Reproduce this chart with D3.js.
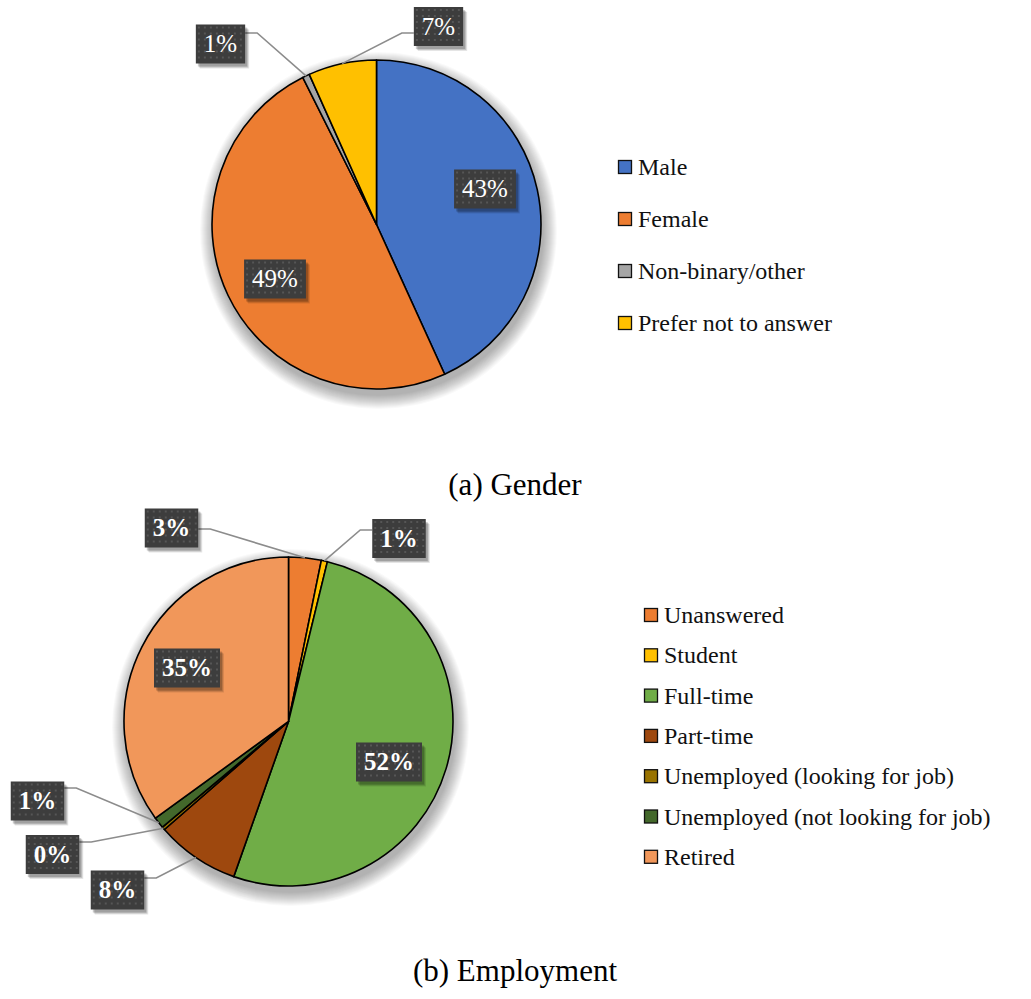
<html><head><meta charset="utf-8"><script src="https://cdn.jsdelivr.net/npm/d3@7"></script></head>
<body style="margin:0">
<svg id="chart" width="1031" height="999"></svg>
<script>
// ---- Data --------------------------------------------------------------
const genderCategories = ["Male", "Female", "Non-binary/other", "Prefer not to answer"];
const genderValues     = [43.2, 49.4, 0.7, 6.7];
const genderColors     = ["#4472C4", "#ED7D31", "#A5A5A5", "#FFC000"];

const employmentCategories = ["Unanswered", "Student", "Full-time", "Part-time",
  "Unemployed (looking for job)", "Unemployed (not looking for job)", "Retired"];
const employmentValues = [3.2, 0.6, 51.6, 8.2, 0.3, 1.1, 35.0];
const employmentColors = ["#ED7D31", "#FFC000", "#70AD47", "#9E480E", "#997300", "#43682B", "#F1975A"];

const captions = ["(a) Gender", "(b) Employment"];

// ---- Layout ------------------------------------------------------------
// Label placement per slice: box centre relative to pie centre, whether the
// label sits inside the slice, and where the leader leaves the box.
const genderLayout = {
  cx: 376.5, cy: 224.5, r: 164.5, bold: false,
  legend: { x: 618, y: 167, step: 52, size: 14 },
  labels: [
    { dx: 108.5, dy: -35.5, inside: true },
    { dx: -101.5, dy: 54.5, inside: true },
    { dx: -156, dy: -180.5, side: "right", ay: -11 },
    { dx: 62, dy: -198, side: "left", ay: 6.5 }
  ],
  caption: { x: 515, y: 495 }
};
const employmentLayout = {
  cx: 288.5, cy: 721.5, r: 164.5, bold: true,
  legend: { x: 644, y: 615, step: 40.3, size: 14 },
  labels: [
    { dx: -117, dy: -193.5, side: "right", ay: 1 },
    { dx: 110.5, dy: -183, side: "left", ay: -8.5 },
    { dx: 100.5, dy: 40.5, inside: true },
    { dx: -171, dy: 168.5, side: "right", ay: -12 },
    { dx: -236, dy: 133, side: "right", ay: -12.5 },
    { dx: -251, dy: 79.5, side: "right", ay: -13 },
    { dx: -101.5, dy: -53.5, inside: true }
  ],
  caption: { x: 515, y: 981 }
};

const LABEL_SIZE = 25;
const FONT = '"Liberation Serif"';

const svg = d3.select("#chart");

// Box width from serif glyph advances (digits 0.5em, percent sign ~0.83em / 1em bold)
function boxWidth(str, bold) {
  let em = 0;
  for (const ch of str) em += ch === "%" ? (bold ? 1.0 : 0.833) : 0.5;
  return em * LABEL_SIZE + 16;
}

function drawPie(categories, values, colors, L, caption) {
  const total = d3.sum(values);
  const pie = d3.pie().sort(null).value(d => d)(values);
  const arc = d3.arc().innerRadius(0).outerRadius(L.r);
  const g = svg.append("g").attr("transform", `translate(${L.cx},${L.cy})`);

  // soft shadow: stacked faint discs, slightly lowered
  g.append("g").selectAll("circle").data(d3.range(14)).join("circle")
    .attr("cx", 2).attr("cy", 6)
    .attr("r", k => L.r + 14 - k)
    .attr("fill", "#000")
    .attr("fill-opacity", 0.022);

  g.append("g")
    .selectAll("path").data(pie).join("path")
      .attr("d", arc)
      .attr("fill", (d, i) => colors[i])
      .attr("stroke", "#000")
      .attr("stroke-width", 1.6)
      .attr("stroke-linejoin", "round");

  const fmt = v => Math.round(v / total * 100) + "%";

  const labG = g.append("g");
  pie.forEach((d, i) => {
    const lab = L.labels[i];
    const str = fmt(d.data);
    const w = boxWidth(str, L.bold), h = 39;
    const bx = lab.dx - w / 2, by = lab.dy - h / 2;
    if (!lab.inside) {
      const a = (d.startAngle + d.endAngle) / 2;
      const px = Math.sin(a) * L.r, py = -Math.cos(a) * L.r;
      const ex = lab.side === "right" ? bx + w : bx;
      const ey = lab.dy + lab.ay;
      const hx = lab.side === "right" ? ex + 12 : ex - 12;
      labG.append("path")
        .attr("d", `M${ex},${ey}L${hx},${ey}L${px},${py}`)
        .attr("fill", "none").attr("stroke", "#8c8c8c").attr("stroke-width", 1.6);
    }
    // box shadow
    [[5, 0.10], [4, 0.14], [3, 0.18]].forEach(([o, op]) => {
      labG.append("rect")
        .attr("x", bx + o - 1).attr("y", by + o)
        .attr("width", w).attr("height", h)
        .attr("fill", "#000").attr("fill-opacity", op);
    });
    labG.append("rect")
      .attr("x", bx).attr("y", by).attr("width", w).attr("height", h)
      .attr("fill", "#3d3d3d");
    // dotted texture
    const cols = d3.range(2, w - 2, 6), rows = d3.range(2, h - 2, 6);
    labG.append("g").selectAll("rect")
      .data(d3.cross(cols, rows)).join("rect")
        .attr("x", p => bx + p[0]).attr("y", p => by + p[1])
        .attr("width", 2).attr("height", 2)
        .attr("fill", "#565656");
    labG.append("text")
      .attr("x", lab.dx).attr("y", lab.dy + LABEL_SIZE * 0.33)
      .attr("text-anchor", "middle")
      .attr("font-size", LABEL_SIZE)
      .style("font-family", FONT)
      .style("font-weight", L.bold ? "bold" : "normal")
      .attr("fill", "#fff")
      .text(str);
  });

  // legend
  const leg = svg.append("g");
  categories.forEach((c, i) => {
    const y = L.legend.y + i * L.legend.step;
    leg.append("rect")
      .attr("x", L.legend.x + 0.5).attr("y", y - L.legend.size / 2 + 0.5)
      .attr("width", L.legend.size - 1).attr("height", L.legend.size - 1)
      .attr("fill", colors[i]).attr("stroke", "#111").attr("stroke-width", 1.3);
    leg.append("text")
      .attr("x", L.legend.x + L.legend.size + 6).attr("y", y + 8)
      .attr("font-size", 24)
      .style("font-family", FONT)
      .attr("fill", "#111")
      .text(c);
  });

  svg.append("text")
    .attr("x", L.caption.x).attr("y", L.caption.y)
    .attr("text-anchor", "middle")
    .attr("font-size", 31)
    .style("font-family", FONT)
    .attr("fill", "#000")
    .text(caption);
}

drawPie(genderCategories, genderValues, genderColors, genderLayout, captions[0]);
drawPie(employmentCategories, employmentValues, employmentColors, employmentLayout, captions[1]);
</script>
</body></html>
